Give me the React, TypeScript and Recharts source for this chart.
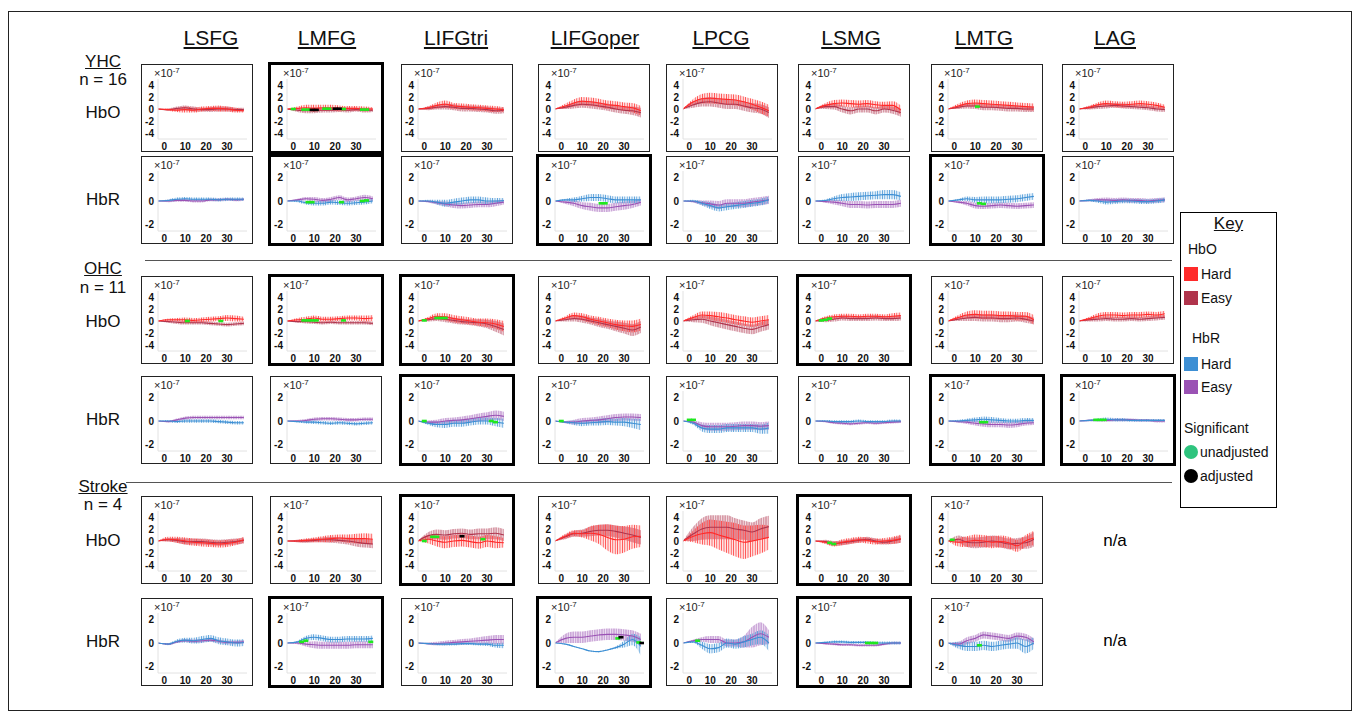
import React from 'react';
import { ComposedChart, Area, Line, Scatter, XAxis, YAxis } from 'recharts';

// ---------- data (values in units of 1e-7) ----------
const TIMES = [-3, 2, 6, 10, 14, 18, 22, 26, 30, 34, 38];
const REGIONS = ['LSFG', 'LMFG', 'LIFGtri', 'LIFGoper', 'LPCG', 'LSMG', 'LMTG', 'LAG'];
const X_TICKS = [0, 10, 20, 30];
const HBO_TICKS = [-4, -2, 0, 2, 4];
const HBR_TICKS = [-2, 0, 2];

// YHC HbO
const yhcHboHard = [
  [0, -0.1, -0.2, -0.1, -0.2, 0, 0.1, 0.1, 0, -0.2, -0.3],
  [0, 0.1, 0.2, 0.1, 0.2, 0.2, 0.1, 0.1, 0.1, 0, 0],
  [0, 0.2, 0.6, 0.8, 0.5, 0.4, 0.3, 0.2, 0.1, 0, -0.1],
  [0, 0.5, 1.0, 1.3, 1.2, 1.0, 0.7, 0.6, 0.4, 0.2, -0.3],
  [0, 1.2, 1.7, 1.8, 1.7, 1.6, 1.5, 1.2, 0.8, 0.3, -0.3],
  [0, 0.6, 0.9, 1.0, 0.9, 0.8, 0.9, 0.7, 0.6, 0.6, -0.2],
  [0, 0.5, 0.9, 1.0, 0.9, 0.8, 0.7, 0.6, 0.5, 0.4, 0.3],
  [0, 0.3, 0.7, 0.9, 0.8, 0.7, 0.8, 0.9, 0.8, 0.6, 0.3],
];
const yhcHboHardErr = [
  [0, 0.2, 0.3, 0.5, 0.4, 0.4, 0.4, 0.5, 0.4, 0.4, 0.3],
  [0, 0.3, 0.5, 0.6, 0.5, 0.5, 0.5, 0.4, 0.4, 0.4, 0.3],
  [0, 0.3, 0.5, 0.6, 0.5, 0.5, 0.5, 0.5, 0.5, 0.5, 0.4],
  [0, 0.4, 0.6, 0.7, 0.7, 0.7, 0.7, 0.7, 0.7, 0.8, 0.8],
  [0, 0.5, 0.8, 0.9, 0.9, 0.9, 0.9, 0.9, 0.9, 1.0, 1.0],
  [0, 0.4, 0.6, 0.6, 0.6, 0.6, 0.6, 0.6, 0.6, 0.7, 0.8],
  [0, 0.4, 0.5, 0.6, 0.6, 0.6, 0.6, 0.6, 0.6, 0.6, 0.6],
  [0, 0.3, 0.4, 0.5, 0.5, 0.5, 0.5, 0.5, 0.5, 0.5, 0.4],
];
const yhcHboEasy = [
  [0, -0.1, 0.1, 0.2, 0, -0.1, -0.1, 0, 0, -0.1, -0.1],
  [0, -0.2, -0.3, -0.2, -0.2, -0.2, -0.1, -0.2, -0.1, -0.2, -0.2],
  [0, 0.1, 0.3, 0.4, 0.3, 0.1, 0.1, 0, -0.1, -0.3, -0.2],
  [0, 0.3, 0.6, 0.8, 0.7, 0.5, 0.3, 0, -0.2, -0.3, -0.6],
  [0, 0.7, 1.1, 1.2, 1.0, 0.8, 0.8, 0.5, 0.2, 0, -0.6],
  [0, 0.4, 0.4, 0, -0.3, 0, 0, -0.3, 0, -0.2, -0.6],
  [0, 0.3, 0.5, 0.5, 0.3, 0.3, 0.2, 0.1, 0.1, 0, 0],
  [0, 0.2, 0.4, 0.5, 0.6, 0.5, 0.4, 0.3, 0.2, 0, -0.1],
];
const yhcHboEasyErr = [
  [0, 0.2, 0.3, 0.4, 0.4, 0.3, 0.4, 0.4, 0.4, 0.3, 0.3],
  [0, 0.3, 0.4, 0.5, 0.4, 0.4, 0.4, 0.4, 0.3, 0.4, 0.3],
  [0, 0.3, 0.4, 0.5, 0.5, 0.5, 0.5, 0.5, 0.5, 0.5, 0.5],
  [0, 0.3, 0.5, 0.6, 0.6, 0.6, 0.6, 0.6, 0.6, 0.7, 0.8],
  [0, 0.5, 0.7, 0.8, 0.8, 0.8, 0.8, 0.8, 0.8, 0.8, 0.9],
  [0, 0.4, 0.5, 0.6, 0.6, 0.6, 0.6, 0.6, 0.6, 0.6, 0.7],
  [0, 0.3, 0.4, 0.5, 0.5, 0.5, 0.5, 0.5, 0.5, 0.5, 0.5],
  [0, 0.3, 0.4, 0.4, 0.4, 0.4, 0.4, 0.4, 0.4, 0.4, 0.4],
];
const yhcHboSig = [
  [],
  [[0, 0, 0], [5, -0.1, 0], [7, -0.1, 0], [9, -0.15, 1], [11, -0.15, 1], [15, 0.05, 0], [17, 0.05, 0], [20, 0.05, 1], [22, 0.05, 1], [24, 0, 0], [33, -0.1, 0], [35, -0.1, 0]],
  [], [], [], [],
  [[11, 0.4, 0]],
  [],
];
const yhcHboBold = [0, 1, 0, 0, 0, 0, 0, 0];

// YHC HbR
const yhcHbrHard = [
  [0, 0.05, 0.15, 0.2, 0.15, 0.15, 0.15, 0.1, 0.15, 0.15, 0.15],
  [0, 0, -0.15, -0.2, -0.2, -0.1, -0.15, -0.2, -0.15, -0.1, 0],
  [0, 0, -0.1, -0.2, -0.1, 0, 0.1, 0.1, 0, 0, 0.05],
  [0, 0.1, 0.1, 0.2, 0.3, 0.3, 0.2, 0.1, 0.1, 0.1, 0.1],
  [0, 0, -0.2, -0.4, -0.6, -0.5, -0.4, -0.3, -0.2, -0.1, 0.1],
  [0, 0.05, 0.2, 0.3, 0.35, 0.4, 0.45, 0.5, 0.55, 0.55, 0.4],
  [0, 0.1, 0.2, 0.1, 0.1, 0.1, 0.1, 0.15, 0.2, 0.3, 0.4],
  [0, 0.05, 0, -0.1, -0.05, 0, 0, -0.05, -0.05, 0, 0.1],
];
const yhcHbrHardErr = [
  [0, 0.1, 0.15, 0.15, 0.15, 0.15, 0.15, 0.15, 0.15, 0.15, 0.15],
  [0, 0.1, 0.15, 0.2, 0.2, 0.2, 0.2, 0.2, 0.2, 0.2, 0.2],
  [0, 0.1, 0.2, 0.3, 0.3, 0.3, 0.3, 0.3, 0.3, 0.25, 0.2],
  [0, 0.1, 0.2, 0.25, 0.3, 0.3, 0.3, 0.3, 0.3, 0.3, 0.3],
  [0, 0.1, 0.2, 0.3, 0.3, 0.3, 0.3, 0.3, 0.3, 0.3, 0.3],
  [0, 0.1, 0.2, 0.3, 0.35, 0.35, 0.35, 0.35, 0.4, 0.4, 0.35],
  [0, 0.1, 0.2, 0.25, 0.3, 0.3, 0.3, 0.3, 0.3, 0.3, 0.3],
  [0, 0.1, 0.15, 0.2, 0.2, 0.2, 0.2, 0.2, 0.2, 0.2, 0.2],
];
const yhcHbrEasy = [
  [0, 0, 0.05, 0.05, 0, 0, 0.1, 0.1, 0.15, 0.1, 0.15],
  [0, 0.1, 0.2, 0.15, 0.05, 0.15, 0.3, 0.1, 0.2, 0.3, 0.2],
  [0, -0.05, -0.15, -0.25, -0.35, -0.4, -0.35, -0.3, -0.3, -0.2, -0.1],
  [0, -0.1, -0.2, -0.4, -0.5, -0.6, -0.6, -0.5, -0.4, -0.3, -0.1],
  [0, -0.05, -0.15, -0.25, -0.35, -0.2, -0.2, -0.2, -0.1, 0, 0.1],
  [0, -0.05, -0.1, -0.2, -0.3, -0.3, -0.35, -0.3, -0.3, -0.3, -0.2],
  [0, -0.1, -0.2, -0.4, -0.45, -0.4, -0.35, -0.4, -0.45, -0.4, -0.35],
  [0, 0.05, 0.1, 0.1, 0.05, 0.1, 0.05, 0.05, 0, 0.05, 0.1],
];
const yhcHbrEasyErr = [
  [0, 0.1, 0.12, 0.12, 0.12, 0.12, 0.12, 0.12, 0.12, 0.12, 0.12],
  [0, 0.1, 0.15, 0.2, 0.2, 0.2, 0.2, 0.2, 0.2, 0.25, 0.2],
  [0, 0.1, 0.15, 0.2, 0.25, 0.25, 0.25, 0.25, 0.25, 0.25, 0.2],
  [0, 0.15, 0.25, 0.3, 0.35, 0.35, 0.35, 0.35, 0.35, 0.3, 0.3],
  [0, 0.1, 0.2, 0.3, 0.35, 0.35, 0.35, 0.35, 0.35, 0.35, 0.35],
  [0, 0.1, 0.2, 0.25, 0.3, 0.3, 0.3, 0.3, 0.3, 0.3, 0.3],
  [0, 0.1, 0.2, 0.25, 0.25, 0.25, 0.25, 0.25, 0.25, 0.25, 0.25],
  [0, 0.1, 0.15, 0.2, 0.2, 0.2, 0.2, 0.2, 0.2, 0.2, 0.2],
];
const yhcHbrSig = [
  [],
  [[7, -0.1, 0], [9, -0.1, 0], [23, -0.1, 0], [33, 0, 0], [35, 0.05, 0]],
  [],
  [[19, -0.2, 0], [21, -0.2, 0]],
  [], [],
  [[12, -0.2, 0], [14, -0.25, 0]],
  [],
];
const yhcHbrBold = [0, 1, 0, 1, 0, 0, 1, 0];

// OHC HbO
const ohcHboHard = [
  [0, 0.2, 0.2, 0.2, 0.1, 0.2, 0.3, 0.4, 0.5, 0.4, 0.3],
  [0, 0.2, 0.3, 0.5, 0.3, 0.3, 0.4, 0.5, 0.5, 0.4, 0.5],
  [0, 0.4, 0.8, 0.7, 0.4, 0.2, 0, -0.2, -0.3, -0.5, -0.9],
  [0, 0.5, 0.9, 0.7, 0.3, 0, -0.3, -0.6, -0.8, -0.9, -0.6],
  [0, 0.6, 1.0, 0.9, 0.7, 0.5, 0.2, 0, -0.2, 0, 0.2],
  [0, 0.5, 0.7, 0.8, 0.8, 0.7, 0.8, 0.8, 0.7, 0.8, 0.9],
  [0, 0.6, 1.0, 1.1, 1.0, 1.0, 0.9, 0.9, 0.8, 0.8, 0.2],
  [0, 0.4, 0.8, 1.0, 1.0, 0.9, 1.0, 1.0, 1.1, 1.0, 1.2],
];
const ohcHboHardErr = [
  [0, 0.2, 0.3, 0.4, 0.4, 0.4, 0.4, 0.4, 0.5, 0.5, 0.4],
  [0, 0.3, 0.4, 0.4, 0.4, 0.4, 0.4, 0.4, 0.4, 0.5, 0.5],
  [0, 0.3, 0.5, 0.6, 0.6, 0.6, 0.6, 0.6, 0.7, 0.8, 0.9],
  [0, 0.3, 0.5, 0.6, 0.6, 0.7, 0.7, 0.8, 0.9, 1.0, 1.0],
  [0, 0.4, 0.6, 0.7, 0.8, 0.8, 0.8, 0.8, 0.8, 0.8, 0.8],
  [0, 0.3, 0.4, 0.4, 0.4, 0.4, 0.4, 0.4, 0.4, 0.5, 0.5],
  [0, 0.4, 0.6, 0.7, 0.7, 0.7, 0.7, 0.7, 0.7, 0.7, 0.8],
  [0, 0.3, 0.5, 0.5, 0.5, 0.5, 0.5, 0.5, 0.5, 0.5, 0.5],
];
const ohcHboEasy = [
  [0, -0.1, -0.2, -0.3, -0.3, -0.3, -0.4, -0.5, -0.6, -0.5, -0.4],
  [0, -0.1, -0.1, -0.2, -0.3, -0.2, -0.3, -0.3, -0.3, -0.3, -0.4],
  [0, 0.2, 0.4, 0.3, 0.1, -0.1, -0.2, -0.3, -0.5, -0.9, -1.4],
  [0, 0.2, 0.4, 0.3, 0, -0.3, -0.6, -0.9, -1.2, -1.5, -1.0],
  [0, 0.2, 0.3, 0, -0.3, -0.6, -0.9, -1.2, -1.4, -1.0, -0.6],
  [0, 0.1, 0.3, 0.5, 0.4, 0.4, 0.4, 0.5, 0.4, 0.4, 0.5],
  [0, 0.3, 0.5, 0.6, 0.5, 0.5, 0.4, 0.4, 0.5, 0.3, 0],
  [0, 0.2, 0.3, 0.4, 0.3, 0.3, 0.4, 0.3, 0.4, 0.5, 0.6],
];
const ohcHboEasyErr = [
  [0, 0.2, 0.3, 0.3, 0.3, 0.3, 0.3, 0.3, 0.3, 0.3, 0.3],
  [0, 0.2, 0.3, 0.3, 0.3, 0.3, 0.3, 0.3, 0.3, 0.3, 0.3],
  [0, 0.3, 0.4, 0.5, 0.5, 0.5, 0.5, 0.6, 0.7, 0.9, 1.0],
  [0, 0.3, 0.5, 0.6, 0.6, 0.7, 0.7, 0.8, 0.9, 1.0, 1.0],
  [0, 0.4, 0.6, 0.7, 0.8, 0.8, 0.8, 0.8, 0.8, 0.8, 0.8],
  [0, 0.3, 0.4, 0.4, 0.4, 0.4, 0.4, 0.4, 0.4, 0.4, 0.4],
  [0, 0.3, 0.5, 0.6, 0.6, 0.6, 0.6, 0.6, 0.6, 0.6, 0.6],
  [0, 0.3, 0.4, 0.4, 0.4, 0.4, 0.4, 0.4, 0.4, 0.4, 0.4],
];
const ohcHboSig = [
  [[11, 0, 0], [27, 0, 0]],
  [[5, 0.1, 0], [7, 0.1, 0], [9, 0.1, 0], [11, 0.1, 0], [24, 0.1, 0]],
  [[0, 0.1, 0], [6, 0.5, 0], [8, 0.5, 0], [10, 0.5, 0]],
  [], [],
  [[0, 0.1, 0], [2, 0.2, 0], [4, 0.4, 0]],
  [], [],
];
const ohcHboBold = [0, 1, 1, 0, 0, 1, 0, 0];

// OHC HbR
const ohcHbrHard = [
  [0, 0, -0.05, 0, 0, 0, 0, -0.05, -0.1, -0.15, -0.15],
  [0, -0.05, -0.1, -0.1, -0.15, -0.2, -0.15, -0.2, -0.25, -0.2, -0.15],
  [0, -0.2, -0.3, -0.3, -0.2, -0.2, -0.1, 0, 0, -0.1, -0.2],
  [0, -0.1, -0.15, -0.2, -0.15, -0.1, -0.05, -0.1, -0.1, -0.2, -0.3],
  [0, -0.2, -0.6, -0.7, -0.7, -0.6, -0.6, -0.6, -0.6, -0.7, -0.6],
  [0, 0, -0.05, -0.05, -0.05, 0, -0.05, -0.05, -0.05, 0, 0],
  [0, 0, 0.05, 0.1, 0.15, 0.1, 0.05, 0, 0, 0.05, 0.05],
  [0, 0.05, 0.1, 0.15, 0.1, 0.1, 0.05, 0.05, 0.05, 0.05, 0.05],
];
const ohcHbrHardErr = [
  [0, 0.08, 0.12, 0.15, 0.15, 0.15, 0.15, 0.15, 0.15, 0.15, 0.15],
  [0, 0.08, 0.12, 0.15, 0.15, 0.15, 0.15, 0.15, 0.15, 0.15, 0.15],
  [0, 0.15, 0.25, 0.3, 0.3, 0.3, 0.3, 0.3, 0.3, 0.35, 0.4],
  [0, 0.1, 0.2, 0.25, 0.25, 0.3, 0.3, 0.3, 0.35, 0.4, 0.5],
  [0, 0.15, 0.3, 0.35, 0.35, 0.35, 0.35, 0.35, 0.35, 0.4, 0.5],
  [0, 0.08, 0.12, 0.12, 0.12, 0.12, 0.12, 0.12, 0.12, 0.12, 0.12],
  [0, 0.1, 0.15, 0.2, 0.25, 0.25, 0.2, 0.2, 0.2, 0.2, 0.2],
  [0, 0.08, 0.12, 0.15, 0.15, 0.15, 0.12, 0.12, 0.12, 0.12, 0.12],
];
const ohcHbrEasy = [
  [0, -0.05, 0.1, 0.25, 0.3, 0.3, 0.3, 0.3, 0.3, 0.3, 0.3],
  [0, 0, 0.05, 0.15, 0.2, 0.2, 0.15, 0.1, 0.1, 0.15, 0.15],
  [0, -0.1, -0.1, 0, 0.05, 0.1, 0.2, 0.3, 0.4, 0.5, 0.4],
  [0, -0.1, -0.1, 0, 0.05, 0.1, 0.2, 0.3, 0.35, 0.35, 0.3],
  [0, -0.1, -0.4, -0.5, -0.5, -0.5, -0.45, -0.4, -0.4, -0.45, -0.4],
  [0, -0.05, -0.15, -0.2, -0.25, -0.2, -0.15, -0.2, -0.15, -0.1, -0.05],
  [0, -0.05, -0.1, -0.2, -0.25, -0.3, -0.3, -0.35, -0.3, -0.2, -0.15],
  [0, 0.05, 0.05, 0.05, 0.1, 0.1, 0.1, 0.05, 0.05, 0, 0],
];
const ohcHbrEasyErr = [
  [0, 0.08, 0.12, 0.15, 0.15, 0.15, 0.15, 0.15, 0.15, 0.15, 0.15],
  [0, 0.08, 0.12, 0.15, 0.15, 0.15, 0.15, 0.15, 0.15, 0.15, 0.15],
  [0, 0.15, 0.2, 0.25, 0.25, 0.3, 0.3, 0.35, 0.35, 0.4, 0.4],
  [0, 0.1, 0.2, 0.25, 0.25, 0.3, 0.3, 0.3, 0.3, 0.3, 0.3],
  [0, 0.15, 0.3, 0.35, 0.35, 0.35, 0.35, 0.35, 0.35, 0.35, 0.35],
  [0, 0.08, 0.12, 0.12, 0.12, 0.12, 0.12, 0.12, 0.12, 0.12, 0.12],
  [0, 0.1, 0.15, 0.2, 0.25, 0.25, 0.25, 0.25, 0.25, 0.2, 0.2],
  [0, 0.08, 0.1, 0.12, 0.12, 0.12, 0.12, 0.12, 0.12, 0.12, 0.12],
];
const ohcHbrSig = [
  [], [],
  [[0, 0, 0], [32, 0, 0], [34, -0.1, 0]],
  [[0, 0, 0]],
  [[0, 0.1, 0], [2, 0.1, 0]],
  [],
  [[13, -0.1, 0], [15, -0.1, 0]],
  [[5, 0.1, 0], [7, 0.1, 0], [9, 0.1, 0]],
];
const ohcHbrBold = [0, 0, 1, 0, 0, 0, 1, 1];

// Stroke HbO (no LAG data)
const strokeHboHard = [
  [0, 0.3, 0.2, 0, -0.2, -0.3, -0.4, -0.5, -0.4, -0.2, 0.2],
  [0, 0, 0.1, 0.2, 0.3, 0.4, 0.5, 0.4, 0.4, 0.4, 0.3],
  [0, 0.3, 0, -0.2, 0, 0.1, -0.1, -0.3, 0, -0.2, -0.3],
  [0, 0.8, 1.3, 1.2, 1.3, 1.1, 0.6, 0.2, 0.3, 0.7, 0.8],
  [0, 0.8, 1.2, 1.4, 1.0, 0.6, 0.2, -0.2, 0, 0.3, 0.6],
  [0, -0.2, -0.5, -0.2, 0, 0.2, 0.1, -0.1, 0, 0.1, 0.4],
  [0, -0.2, -0.1, 0.1, 0, -0.2, -0.1, -0.3, -0.8, 0, 0.5],
];
const strokeHboHardErr = [
  [0, 0.4, 0.5, 0.6, 0.6, 0.6, 0.6, 0.6, 0.6, 0.5, 0.5],
  [0, 0.2, 0.3, 0.4, 0.5, 0.6, 0.6, 0.7, 0.8, 0.9, 0.9],
  [0, 0.7, 0.9, 1.0, 1.0, 1.0, 1.0, 1.0, 1.0, 1.0, 0.8],
  [0, 0.4, 0.5, 0.6, 1.2, 1.6, 2.2, 2.4, 2.2, 2.0, 1.8],
  [0, 1.0, 1.8, 2.2, 2.4, 2.6, 2.8, 2.8, 2.6, 2.4, 2.0],
  [0, 0.3, 0.4, 0.5, 0.5, 0.5, 0.5, 0.5, 0.5, 0.6, 0.7],
  [0, 0.7, 0.9, 1.0, 1.0, 1.0, 1.0, 1.0, 1.0, 1.0, 1.2],
];
const strokeHboEasy = [
  [0, 0.2, 0.1, -0.1, -0.1, -0.1, -0.2, -0.3, -0.2, -0.1, 0.1],
  [0, 0, 0, 0.1, 0.2, 0.2, 0.1, 0, -0.2, -0.4, -0.5],
  [0, 0.9, 1.1, 1.0, 1.2, 1.3, 1.1, 1.2, 1.2, 1.3, 1.0],
  [0, 0.7, 1.2, 1.3, 1.6, 1.8, 1.8, 1.6, 1.3, 1.0, 0.6],
  [0, 1.2, 2.0, 2.3, 2.3, 2.3, 2.0, 1.8, 1.5, 2.0, 2.4],
  [0, -0.1, -0.4, -0.3, -0.1, 0.1, 0.3, 0, -0.2, 0, 0.3],
  [0, 0.3, -0.2, -0.3, -0.2, 0, -0.2, -0.5, -0.4, -0.3, 0.3],
];
const strokeHboEasyErr = [
  [0, 0.3, 0.4, 0.5, 0.5, 0.5, 0.5, 0.5, 0.5, 0.5, 0.5],
  [0, 0.2, 0.3, 0.3, 0.4, 0.5, 0.5, 0.6, 0.7, 0.7, 0.7],
  [0, 0.6, 0.8, 0.8, 0.8, 0.8, 0.8, 0.9, 0.9, 1.0, 1.0],
  [0, 0.4, 0.5, 0.6, 0.8, 0.9, 1.0, 1.0, 1.1, 1.2, 1.2],
  [0, 1.2, 1.8, 2.0, 2.0, 2.0, 1.8, 1.6, 1.6, 1.8, 1.8],
  [0, 0.3, 0.4, 0.4, 0.4, 0.4, 0.4, 0.4, 0.4, 0.5, 0.6],
  [0, 0.6, 0.8, 0.9, 0.9, 0.9, 0.9, 0.9, 0.9, 1.0, 1.2],
];
const strokeHboSig = [
  [], [],
  [[0, 0, 0], [4, 0.7, 0], [6, 0.7, 0], [18, 0.8, 1], [28, 0.3, 0]],
  [], [],
  [[4, -0.3, 0], [6, -0.5, 0]],
  [[-1, 0.2, 0]],
];
const strokeHboBold = [0, 0, 1, 0, 0, 1, 0];

// Stroke HbR (no LAG data)
const strokeHbrHard = [
  [0, -0.1, 0.15, 0.25, 0.2, 0.3, 0.4, 0.2, 0.1, 0, 0.05],
  [0, 0.1, 0.4, 0.5, 0.4, 0.3, 0.3, 0.35, 0.35, 0.35, 0.4],
  [0, -0.05, -0.1, -0.1, -0.1, -0.05, -0.05, -0.1, -0.1, -0.2, -0.2],
  [0, -0.1, -0.3, -0.5, -0.7, -0.75, -0.6, -0.4, -0.1, 0.3, -0.3],
  [0, 0.1, -0.2, -0.5, -0.4, 0, -0.1, 0.1, 0.3, 0.5, 0],
  [0, 0.05, 0.1, 0.1, 0.05, 0.05, 0.05, 0, 0, 0, 0],
  [0, -0.2, -0.3, -0.3, -0.2, -0.3, -0.2, -0.1, 0, -0.3, 0],
];
const strokeHbrHardErr = [
  [0, 0.1, 0.15, 0.2, 0.25, 0.3, 0.3, 0.3, 0.3, 0.3, 0.3],
  [0, 0.1, 0.2, 0.25, 0.25, 0.25, 0.25, 0.25, 0.25, 0.25, 0.25],
  [0, 0.08, 0.1, 0.12, 0.12, 0.12, 0.12, 0.12, 0.15, 0.2, 0.25],
  [0, 0.05, 0.05, 0.05, 0.05, 0.05, 0.05, 0.1, 0.3, 0.5, 0.8],
  [0, 0.1, 0.3, 0.4, 0.4, 0.4, 0.4, 0.5, 0.5, 0.6, 0.7],
  [0, 0.08, 0.12, 0.12, 0.12, 0.12, 0.12, 0.12, 0.12, 0.12, 0.12],
  [0, 0.3, 0.4, 0.4, 0.4, 0.4, 0.4, 0.4, 0.5, 0.6, 0.5],
];
const strokeHbrEasy = [
  [0, -0.1, 0.1, 0.2, 0.15, 0.2, 0.25, 0.15, 0.05, 0.05, 0.1],
  [0, 0, -0.1, -0.15, -0.2, -0.2, -0.2, -0.2, -0.15, -0.15, -0.15],
  [0, -0.05, -0.05, 0, 0.05, 0.1, 0.15, 0.2, 0.25, 0.3, 0.3],
  [0, 0.4, 0.5, 0.5, 0.6, 0.7, 0.75, 0.75, 0.7, 0.6, 0.3],
  [0, 0.2, 0.3, 0.3, 0.3, 0, 0, 0.1, 0.5, 0.8, 0.5],
  [0, -0.05, -0.1, -0.15, -0.15, -0.2, -0.2, -0.2, -0.1, 0, 0],
  [0, -0.1, 0.2, 0.4, 0.7, 0.6, 0.5, 0.4, 0.6, 0.5, 0.1],
];
const strokeHbrEasyErr = [
  [0, 0.08, 0.1, 0.12, 0.15, 0.15, 0.15, 0.15, 0.15, 0.15, 0.15],
  [0, 0.1, 0.2, 0.3, 0.3, 0.3, 0.3, 0.3, 0.3, 0.3, 0.3],
  [0, 0.1, 0.15, 0.2, 0.2, 0.25, 0.25, 0.3, 0.35, 0.4, 0.4],
  [0, 0.4, 0.5, 0.5, 0.5, 0.5, 0.5, 0.5, 0.5, 0.5, 0.5],
  [0, 0.1, 0.2, 0.3, 0.3, 0.3, 0.3, 0.5, 0.9, 1.0, 0.6],
  [0, 0.08, 0.1, 0.1, 0.1, 0.1, 0.1, 0.1, 0.1, 0.1, 0.1],
  [0, 0.2, 0.3, 0.3, 0.3, 0.3, 0.3, 0.3, 0.3, 0.3, 0.3],
];
const strokeHbrSig = [
  [],
  [[4, 0.1, 0], [6, 0.2, 0], [37, 0.1, 0]],
  [],
  [[27, 0.4, 0], [28.5, 0.5, 1], [37, 0.05, 0], [38.5, 0, 1]],
  [[4, 0.2, 0]],
  [[22, 0, 0], [24, 0, 0], [26, 0, 0]],
  [[12, -0.2, 0]],
];
const strokeHbrBold = [0, 1, 0, 1, 0, 1, 0];

// ---------- styling / layout ----------
const FONT = '"Liberation Sans", Arial, sans-serif';
const COLORS = {
  hboHard: '#ff2a2a',
  hboEasy: '#b0344c',
  hbrHard: '#3d8fd4',
  hbrEasy: '#9a52b4',
  sig: '#1fe81f',
  legendSig: '#2ec47e',
};
const COL_LEFT = [141, 270, 401, 538, 666, 798, 931, 1062];
const HEADER_X = [211, 327, 456, 595, 721, 851, 984, 1115];
const ROW_TOP = [64, 156, 276, 376, 496, 598];
const PW = 112;
const PH = 88;

type Row = {
  kind: 'hbo' | 'hbr';
  hard: number[][];
  hardErr: number[][];
  easy: number[][];
  easyErr: number[][];
  sig: number[][][];
  bold: number[];
};

const ROWS: Row[] = [
  { kind: 'hbo', hard: yhcHboHard, hardErr: yhcHboHardErr, easy: yhcHboEasy, easyErr: yhcHboEasyErr, sig: yhcHboSig, bold: yhcHboBold },
  { kind: 'hbr', hard: yhcHbrHard, hardErr: yhcHbrHardErr, easy: yhcHbrEasy, easyErr: yhcHbrEasyErr, sig: yhcHbrSig, bold: yhcHbrBold },
  { kind: 'hbo', hard: ohcHboHard, hardErr: ohcHboHardErr, easy: ohcHboEasy, easyErr: ohcHboEasyErr, sig: ohcHboSig, bold: ohcHboBold },
  { kind: 'hbr', hard: ohcHbrHard, hardErr: ohcHbrHardErr, easy: ohcHbrEasy, easyErr: ohcHbrEasyErr, sig: ohcHbrSig, bold: ohcHbrBold },
  { kind: 'hbo', hard: strokeHboHard, hardErr: strokeHboHardErr, easy: strokeHboEasy, easyErr: strokeHboEasyErr, sig: strokeHboSig, bold: strokeHboBold },
  { kind: 'hbr', hard: strokeHbrHard, hardErr: strokeHbrHardErr, easy: strokeHbrEasy, easyErr: strokeHbrEasyErr, sig: strokeHbrSig, bold: strokeHbrBold },
];

const ROW_LABELS = [
  { y: 62, text: 'YHC', under: true },
  { y: 80, text: 'n = 16' },
  { y: 113, text: 'HbO' },
  { y: 200, text: 'HbR' },
  { y: 269, text: 'OHC', under: true },
  { y: 288, text: 'n = 11' },
  { y: 322, text: 'HbO' },
  { y: 420, text: 'HbR' },
  { y: 487, text: 'Stroke', under: true },
  { y: 505, text: 'n = 4' },
  { y: 541, text: 'HbO' },
  { y: 642, text: 'HbR' },
];

const sigShape = (color: string) => (props: any) => {
  const { cx, cy } = props;
  if (cx == null || cy == null) return <g />;
  return <rect x={cx - 2.5} y={cy - 1.3} width={5} height={2.6} fill={color} />;
};

function Panel({ left, top, row, idx }: { left: number; top: number; row: Row; idx: number }) {
  const hard = row.hard[idx];
  const easy = row.easy[idx];
  const he = row.hardErr[idx];
  const ee = row.easyErr[idx];
  const data = TIMES.map((t, i) => ({
    t,
    hard: hard[i],
    easy: easy[i],
    hardBand: [hard[i] - he[i], hard[i] + he[i]],
    easyBand: [easy[i] - ee[i], easy[i] + ee[i]],
  }));
  const sigs = row.sig[idx] || [];
  const green = sigs.filter((s) => !s[2]).map((s) => ({ t: s[0], v: s[1] }));
  const black = sigs.filter((s) => s[2]).map((s) => ({ t: s[0], v: s[1] }));
  const isHbo = row.kind === 'hbo';
  const hardColor = isHbo ? COLORS.hboHard : COLORS.hbrHard;
  const easyColor = isHbo ? COLORS.hboEasy : COLORS.hbrEasy;
  const bold = !!row.bold[idx];
  const tickStyle = { fontSize: 10, fontWeight: 700, fill: '#111', fontFamily: FONT };
  return (
    <div style={{ position: 'absolute', left, top, width: PW, height: PH, background: '#fff' }}>
      <ComposedChart width={PW} height={PH} data={data} margin={{ top: 15, right: 6, bottom: 0, left: 0 }}>
        <XAxis
          dataKey="t"
          type="number"
          domain={[-3, 39.5]}
          ticks={X_TICKS}
          allowDataOverflow
          height={13}
          tickLine={false}
          tickSize={2}
          tickMargin={2}
          axisLine={{ stroke: '#e2e2e2' }}
          tick={tickStyle}
          interval={0}
        />
        <YAxis
          type="number"
          domain={isHbo ? [-5, 5] : [-2.6, 2.6]}
          ticks={isHbo ? HBO_TICKS : HBR_TICKS}
          allowDataOverflow
          width={17}
          tickLine={false}
          tickSize={2}
          tickMargin={2}
          axisLine={{ stroke: '#e2e2e2' }}
          tick={tickStyle}
          interval={0}
        />
        <Area dataKey="easyBand" type="monotone" stroke="none" fill={`url(#pat-${row.kind}-easy)`} fillOpacity={1} isAnimationActive={false} dot={false} activeDot={false} />
        <Area dataKey="hardBand" type="monotone" stroke="none" fill={`url(#pat-${row.kind}-hard)`} fillOpacity={1} isAnimationActive={false} dot={false} activeDot={false} />
        <Line dataKey="easy" type="monotone" stroke={easyColor} strokeWidth={1.1} dot={false} activeDot={false} isAnimationActive={false} />
        <Line dataKey="hard" type="monotone" stroke={hardColor} strokeWidth={1.1} dot={false} activeDot={false} isAnimationActive={false} />
        {green.length > 0 && (
          <Scatter data={green} dataKey="v" shape={sigShape(COLORS.sig)} isAnimationActive={false} />
        )}
        {black.length > 0 && (
          <Scatter data={black} dataKey="v" shape={sigShape('#000')} isAnimationActive={false} />
        )}
      </ComposedChart>
      <div style={{ position: 'absolute', left: 13, top: 3, fontSize: 11, fontFamily: FONT, color: '#222', lineHeight: '13px' }}>
        ×10<sup style={{ fontSize: 8, verticalAlign: 'top', position: 'relative', top: -3 }}>-7</sup>
      </div>
      <div
        style={{
          position: 'absolute',
          left: bold ? -2 : 0,
          top: bold ? -2 : 0,
          width: bold ? PW + 4 : PW,
          height: bold ? PH + 4 : PH,
          boxSizing: 'border-box',
          border: bold ? '3px solid #000' : '1px solid #222',
          pointerEvents: 'none',
        }}
      />
    </div>
  );
}

function Patterns() {
  const defs = [
    { id: 'pat-hbo-hard', c: COLORS.hboHard, off: 0 },
    { id: 'pat-hbo-easy', c: COLORS.hboEasy, off: 1.2 },
    { id: 'pat-hbr-hard', c: COLORS.hbrHard, off: 0 },
    { id: 'pat-hbr-easy', c: COLORS.hbrEasy, off: 1.2 },
  ];
  return (
    <svg width={0} height={0} style={{ position: 'absolute', left: 0, top: 0 }}>
      <defs>
        {defs.map((d) => (
          <pattern key={d.id} id={d.id} width={2.4} height={10} patternUnits="userSpaceOnUse">
            <rect x={0} y={0} width={2.4} height={10} fill={d.c} fillOpacity={0.13} />
            <rect x={d.off} y={0} width={0.8} height={10} fill={d.c} fillOpacity={0.85} />
          </pattern>
        ))}
      </defs>
    </svg>
  );
}

function Legend() {
  const txt = { position: 'absolute' as const, fontFamily: FONT, fontSize: 14, color: '#111', lineHeight: '16px' };
  const sw = (top: number, color: string, round = false) => (
    <div style={{ position: 'absolute', left: 1184, top: top - 7, width: 14, height: 14, background: color, borderRadius: round ? 7 : 0 }} />
  );
  return (
    <>
      <div style={{ position: 'absolute', left: 1180, top: 212, width: 97, height: 296, border: '1px solid #000', boxSizing: 'border-box' }} />
      <div style={{ ...txt, left: 1180, width: 97, textAlign: 'center', top: 214, fontSize: 17, lineHeight: '20px', textDecoration: 'underline' }}>Key</div>
      <div style={{ ...txt, left: 1188, top: 241 }}>HbO</div>
      {sw(274, COLORS.hboHard)}
      <div style={{ ...txt, left: 1201, top: 266 }}>Hard</div>
      {sw(298, COLORS.hboEasy)}
      <div style={{ ...txt, left: 1201, top: 290 }}>Easy</div>
      <div style={{ ...txt, left: 1192, top: 330 }}>HbR</div>
      {sw(364, COLORS.hbrHard)}
      <div style={{ ...txt, left: 1201, top: 356 }}>Hard</div>
      {sw(387, COLORS.hbrEasy)}
      <div style={{ ...txt, left: 1201, top: 379 }}>Easy</div>
      <div style={{ ...txt, left: 1184, top: 420 }}>Significant</div>
      {sw(452, COLORS.legendSig, true)}
      <div style={{ ...txt, left: 1200, top: 444 }}>unadjusted</div>
      {sw(476, '#000', true)}
      <div style={{ ...txt, left: 1200, top: 468 }}>adjusted</div>
    </>
  );
}

export default function App() {
  return (
    <div style={{ position: 'absolute', left: 0, top: 0, width: 1360, height: 714, background: '#fff', overflow: 'hidden', fontFamily: FONT }}>
      <Patterns />
      <div style={{ position: 'absolute', left: 8, top: 11, width: 1344, height: 700, border: '1px solid #222', boxSizing: 'border-box' }} />
      {REGIONS.map((r, i) => (
        <div
          key={r}
          style={{ position: 'absolute', left: HEADER_X[i] - 60, width: 120, top: 25, textAlign: 'center', fontSize: 21, lineHeight: '26px', textDecoration: 'underline', color: '#111' }}
        >
          {r}
        </div>
      ))}
      {ROW_LABELS.map((l, i) => (
        <div
          key={i}
          style={{ position: 'absolute', left: 53, width: 100, top: l.y - 10, textAlign: 'center', fontSize: 17, lineHeight: '20px', textDecoration: l.under ? 'underline' : 'none', color: '#111' }}
        >
          {l.text}
        </div>
      ))}
      <div style={{ position: 'absolute', left: 145, top: 260, width: 1027, height: 1, background: '#555' }} />
      <div style={{ position: 'absolute', left: 126, top: 482, width: 1046, height: 1, background: '#555' }} />
      {ROWS.map((row, ri) =>
        row.hard.map((_, ci) => (
          <Panel key={`${ri}-${ci}`} left={COL_LEFT[ci]} top={ROW_TOP[ri]} row={row} idx={ci} />
        ))
      )}
      <div style={{ position: 'absolute', left: 1065, width: 100, top: 531, textAlign: 'center', fontSize: 17, lineHeight: '20px' }}>n/a</div>
      <div style={{ position: 'absolute', left: 1065, width: 100, top: 631, textAlign: 'center', fontSize: 17, lineHeight: '20px' }}>n/a</div>
      <Legend />
    </div>
  );
}
